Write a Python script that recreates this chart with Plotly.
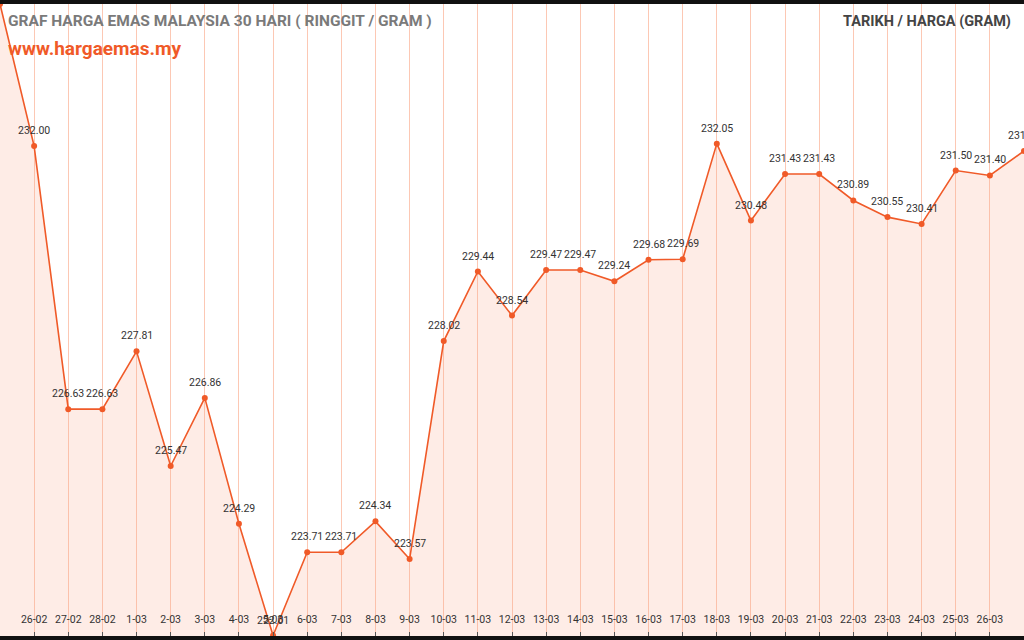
import plotly.graph_objects as go

# harga emas 30 hari, dibaca dari carta
tarikh = [
    "25-02", "26-02", "27-02", "28-02", "1-03", "2-03", "3-03", "4-03", "5-03",
    "6-03", "7-03", "8-03", "9-03", "10-03", "11-03", "12-03", "13-03", "14-03",
    "15-03", "16-03", "17-03", "18-03", "19-03", "20-03", "21-03", "22-03",
    "23-03", "24-03", "25-03", "26-03", "27-03",
]
harga = [
    234.90, 232.00, 226.63, 226.63, 227.81, 225.47, 226.86, 224.29, 222.01,
    223.71, 223.71, 224.34, 223.57, 228.02, 229.44, 228.54, 229.47, 229.47,
    229.24, 229.68, 229.69, 232.05, 230.48, 231.43, 231.43, 230.89,
    230.55, 230.41, 231.50, 231.40, 231.90,
]

idx = list(range(len(tarikh)))

fig = go.Figure()
fig.add_trace(go.Scatter(
    x=idx, y=harga,
    mode="lines+markers",
    line=dict(color="#f05a28", width=1.6),
    marker=dict(color="#f05a28", size=6),
    fill="tozeroy",
    fillcolor="rgba(250,170,140,0.22)",
    hoverinfo="skip",
))

# label harga di atas setiap titik
for i, v in zip(idx, harga):
    fig.add_annotation(
        x=i, y=v, text=f"{v:.2f}", showarrow=False,
        yanchor="bottom", yshift=7,
        font=dict(family="Roboto", size=10.5, color="#333333"),
    )

fig.update_xaxes(
    range=[0, len(tarikh) - 1],
    tickvals=idx[1:-1],
    ticktext=tarikh[1:-1],
    showgrid=True,
    gridcolor="#fcc8b4",
    gridwidth=1,
    zeroline=False,
    ticks="inside",
    ticklen=4,
    tickcolor="#555555",
    ticklabelposition="inside",
    ticklabelstandoff=6,
    tickfont=dict(family="Roboto", size=10.5, color="#333333"),
)
fig.update_yaxes(
    range=[222.0, 234.9],
    showgrid=False,
    zeroline=False,
    showticklabels=False,
    showline=True,
    linecolor="#8a6a60",
    linewidth=1,
)

fig.add_annotation(
    x=0.006, y=0.973, xref="paper", yref="paper", xanchor="left", yanchor="middle",
    text="<b>GRAF HARGA EMAS MALAYSIA 30 HARI ( RINGGIT / GRAM )</b>",
    font=dict(family="Roboto", size=15.5, color="#7a7a7a"),
    showarrow=False,
)
fig.add_annotation(
    x=0.006, y=0.929, xref="paper", yref="paper", xanchor="left", yanchor="middle",
    text="<b>www.hargaemas.my</b>",
    font=dict(family="Roboto", size=19, color="#f05a28"),
    showarrow=False,
)
fig.add_annotation(
    x=0.989, y=0.973, xref="paper", yref="paper", xanchor="right", yanchor="middle",
    text="<b>TARIKH / HARGA (GRAM)</b>",
    font=dict(family="Roboto", size=14.5, color="#444444"),
    showarrow=False,
)

fig.update_layout(
    width=1024, height=640,
    margin=dict(l=0, r=0, t=4, b=4),
    paper_bgcolor="#111111",
    plot_bgcolor="white",
    showlegend=False,
)

fig.write_html(
    "out.html",
    config={"displayModeBar": False},
    post_script="document.body.style.margin='0';document.body.style.overflow='hidden';",
)
